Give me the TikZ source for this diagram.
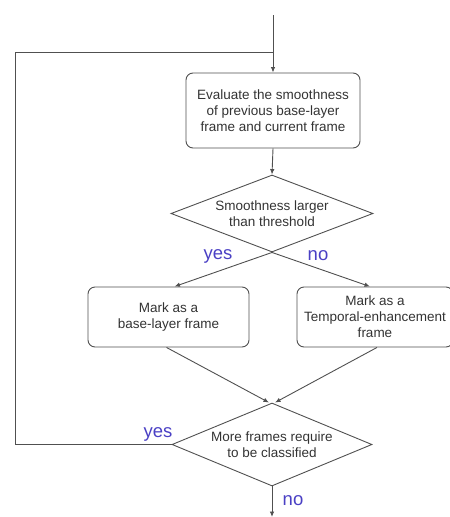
\documentclass[tikz,border=0pt]{standalone}
\usepackage{fontspec}
\setmainfont{Liberation Sans}
\usetikzlibrary{shapes.geometric,arrows.meta}
\definecolor{linegray}{HTML}{505050}
\definecolor{labelblue}{HTML}{4A40C4}
\begin{document}
\begin{tikzpicture}[x=1pt,y=-1pt,
  every node/.style={font=\fontsize{13.5}{16}\selectfont, text=black!80},
  procbox/.style={draw=linegray, line width=0.9pt, rounded corners=7pt,
    align=center, inner sep=0pt},
  decision/.style={draw=linegray, line width=0.9pt, shape=diamond, aspect=2.6,
    align=center, inner sep=0pt},
  flow/.style={draw=linegray, line width=0.9pt},
  arrowflow/.style={flow, -{Latex[length=5.5pt,width=4.5pt]}},
  answer/.style={font=\fontsize{18.5}{20}\selectfont, text=labelblue, inner sep=0pt}
]
\useasboundingbox (0,0) rectangle (450,517);

% process boxes
\node[procbox, minimum width=174pt, minimum height=75pt] (eval) at (273,110.5)
  {Evaluate the smoothness\\of previous base-layer\\frame and current frame};
\node[procbox, minimum width=161pt, minimum height=60pt] (base) at (168.5,317)
  {Mark as a\\base-layer frame};
\node[procbox, minimum width=156pt, minimum height=60pt] (temp) at (375,317)
  {Mark as a\\Temporal-enhancement\\frame};

% decisions
\node[decision, minimum width=202pt, minimum height=77pt] (smooth) at (272,213.5)
  {Smoothness larger\\than threshold};
\node[decision, minimum width=200pt, minimum height=83pt] (more) at (272,444.5)
  {More frames require\\to be classified};

% free ends and bends
\coordinate (start) at (273,15);
\coordinate (join) at (273,52);
\coordinate (loopbot) at (15,444.5);
\coordinate (looptop) at (15,52);
\coordinate (finish) at (272,517);

% connectors
\draw[arrowflow] (start) -- (eval.north);
\draw[arrowflow] (eval.south) -- (smooth.north);
\draw[arrowflow] (smooth.south) -- ([xshift=6pt]base.north);
\draw[arrowflow] (smooth.south) -- ([xshift=-5pt]temp.north);
\draw[arrowflow] ([xshift=-2pt]base.south) -- ([xshift=-3pt]more.north);
\draw[arrowflow] ([xshift=2pt]temp.south) -- ([xshift=3pt]more.north);
\draw[flow] (more.west) -- (loopbot) -- (looptop) -- (join);
\draw[arrowflow] (more.south) -- (finish);

% branch labels
\node[answer] (yes1) at (218,256) {yes};
\node[answer] (no1) at (318,256) {no};
\node[answer] (yes2) at (158,434) {yes};
\node[answer] (no2) at (293,501) {no};
\end{tikzpicture}
\end{document}
